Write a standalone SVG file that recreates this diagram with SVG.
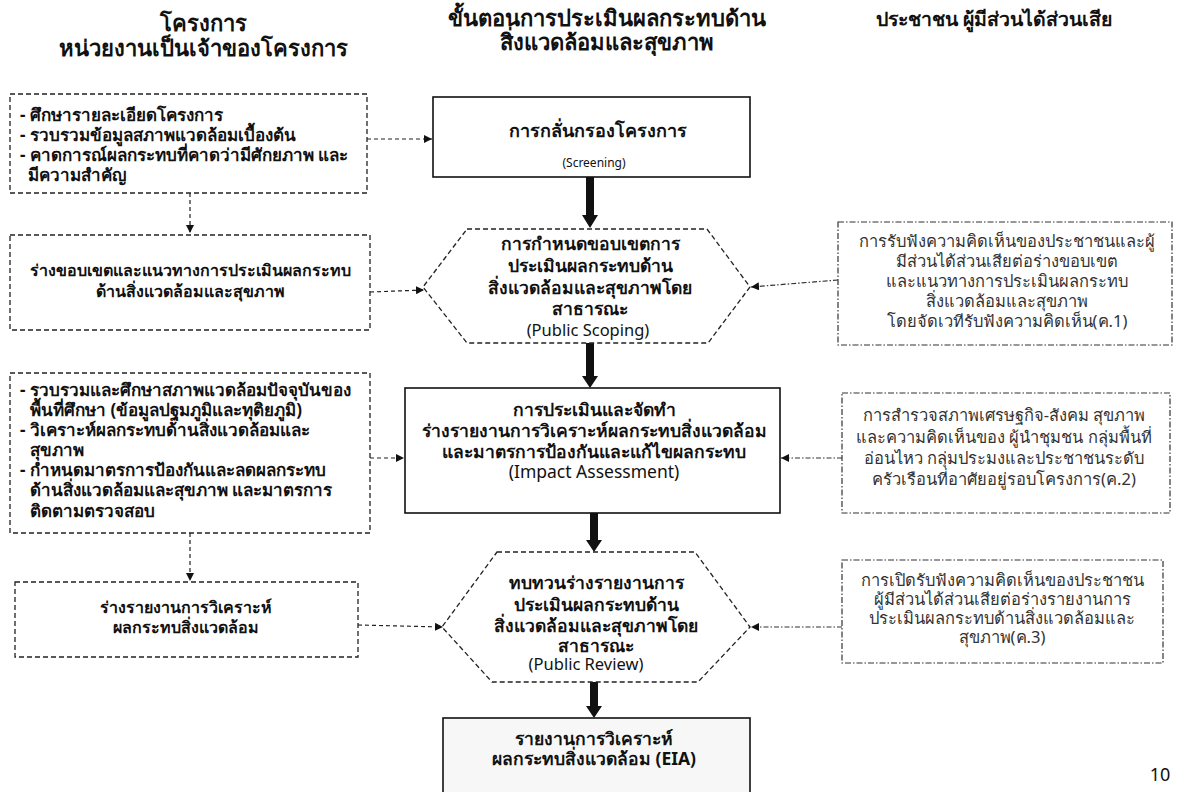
<svg xmlns="http://www.w3.org/2000/svg" width="1185" height="792" viewBox="0 0 1185 792">
<style>
text{font-family:"Noto Sans","DejaVu Sans","Liberation Sans",sans-serif;fill:#111}
.h{font-size:22px;font-weight:bold;text-anchor:middle}
.l{font-size:17px;font-weight:bold}
.lc{font-size:16px;font-weight:bold;text-anchor:middle}
.c{font-size:17.5px;font-weight:bold;text-anchor:middle}
.e{font-size:16.5px;text-anchor:middle}
.r{font-size:16.5px;text-anchor:middle;fill:#333}
.dash{fill:#fff;stroke:#222;stroke-width:1.3;stroke-dasharray:5 3}
.dd{fill:#fff;stroke:#333;stroke-width:1.2;stroke-dasharray:6 2 1.5 2}
.solid{fill:#fff;stroke:#111;stroke-width:1.6}
.conn{fill:none;stroke:#222;stroke-width:1.2;stroke-dasharray:4 3}
.conndd{fill:none;stroke:#333;stroke-width:1.2;stroke-dasharray:5 2 1.5 2}
.thick{fill:#111}
</style>
<defs>
<marker id="ah" viewBox="0 0 10 10" refX="10" refY="5" markerWidth="8" markerHeight="8" markerUnits="userSpaceOnUse" orient="auto">
<path d="M0,0 L10,5 L0,10 z" fill="#111"/>
</marker>
</defs>
<rect width="1185" height="792" fill="#fff"/>

<g id="headers">
<text class="h" x="203" y="31">โครงการ</text>
<text class="h" x="203" y="56">หน่วยงานเป็นเจ้าของโครงการ</text>
<text class="h" x="607" y="26">ขั้นตอนการประเมินผลกระทบด้าน</text>
<text class="h" x="607" y="50">สิ่งแวดล้อมและสุขภาพ</text>
<text class="h" x="994" y="26" style="font-size:19.5px">ประชาชน ผู้มีส่วนได้ส่วนเสีย</text>
</g>

<g id="connectors">
<line class="conn" x1="367" y1="139" x2="432" y2="139" marker-end="url(#ah)"/>
<line class="conn" x1="190" y1="193" x2="190" y2="233" marker-end="url(#ah)"/>
<line class="conn" x1="370" y1="292" x2="424" y2="290" marker-end="url(#ah)"/>
<line class="conndd" x1="838" y1="280" x2="751" y2="287" marker-end="url(#ah)"/>
<line class="conn" x1="370" y1="458" x2="404" y2="458" marker-end="url(#ah)"/>
<line class="conndd" x1="842" y1="458" x2="781" y2="458" marker-end="url(#ah)"/>
<line class="conn" x1="190" y1="533" x2="190" y2="581" marker-end="url(#ah)"/>
<line class="conn" x1="358" y1="625" x2="443" y2="627" marker-end="url(#ah)"/>
<line class="conndd" x1="842" y1="627" x2="751" y2="627" marker-end="url(#ah)"/>
<polygon class="thick" points="586,177 594,177 594,215 598,215 590,228 582,215 586,215"/>
<polygon class="thick" points="586,343 594,343 594,376 598,376 590,388 582,376 586,376"/>
<polygon class="thick" points="590,513 598,513 598,540 602,540 594,552 586,540 590,540"/>
<polygon class="thick" points="590,682 598,682 598,706 602,706 594,718 586,706 590,706"/>
</g>

<g id="left1">
<rect class="dash" x="10" y="94" width="357" height="99"/>
<text class="l" x="20" y="121">- ศึกษารายละเอียดโครงการ</text>
<text class="l" x="20" y="141">- รวบรวมข้อมูลสภาพแวดล้อมเบื้องต้น</text>
<text class="l" x="20" y="161">- คาดการณ์ผลกระทบที่คาดว่ามีศักยภาพ และ</text>
<text class="l" x="28" y="181">มีความสำคัญ</text>
</g>

<g id="left2">
<rect class="dash" x="10" y="235" width="360" height="95"/>
<text class="lc" x="190" y="276">ร่างขอบเขตและแนวทางการประเมินผลกระทบ</text>
<text class="lc" x="190" y="297">ด้านสิ่งแวดล้อมและสุขภาพ</text>
</g>

<g id="left3">
<rect class="dash" x="10" y="373" width="360" height="160"/>
<text class="l" x="20" y="396">- รวบรวมและศึกษาสภาพแวดล้อมปัจจุบันของ</text>
<text class="l" x="30" y="416">พื้นที่ศึกษา (ข้อมูลปฐมภูมิและทุติยภูมิ)</text>
<text class="l" x="20" y="436">- วิเคราะห์ผลกระทบด้านสิ่งแวดล้อมและ</text>
<text class="l" x="30" y="456">สุขภาพ</text>
<text class="l" x="20" y="476">- กำหนดมาตรการป้องกันและลดผลกระทบ</text>
<text class="l" x="30" y="496">ด้านสิ่งแวดล้อมและสุขภาพ และมาตรการ</text>
<text class="l" x="30" y="517">ติดตามตรวจสอบ</text>
</g>

<g id="left4">
<rect class="dash" x="15" y="582" width="343" height="75"/>
<text class="lc" x="186" y="613">ร่างรายงานการวิเคราะห์</text>
<text class="lc" x="186" y="633">ผลกระทบสิ่งแวดล้อม</text>
</g>

<g id="screening">
<rect class="solid" x="433" y="97" width="317" height="80"/>
<text class="c" x="598" y="137" style="font-size:18px">การกลั่นกรองโครงการ</text>
<text class="e" x="594" y="167" style="font-size:12px">(Screening)</text>
</g>

<g id="scoping">
<polygon class="dash" points="467,229 707,229 750,287 708,343 467,343 423,287"/>
<text class="c" x="590" y="250">การกำหนดขอบเขตการ</text>
<text class="c" x="590" y="272">ประเมินผลกระทบด้าน</text>
<text class="c" x="590" y="294">สิ่งแวดล้อมและสุขภาพโดย</text>
<text class="c" x="590" y="315">สาธารณะ</text>
<text class="e" x="588" y="336">(Public Scoping)</text>
</g>

<g id="assessment">
<rect class="solid" x="405" y="388" width="375" height="125"/>
<text class="c" x="594" y="416">การประเมินและจัดทำ</text>
<text class="c" x="594" y="437">ร่างรายงานการวิเคราะห์ผลกระทบสิ่งแวดล้อม</text>
<text class="c" x="594" y="458">และมาตรการป้องกันและแก้ไขผลกระทบ</text>
<text class="c" x="594" y="478" style="font-weight:normal">(Impact Assessment)</text>
</g>

<g id="review">
<polygon class="dash" points="497,552 695,552 750,627 698,682 492,682 442,627"/>
<text class="c" x="596" y="589">ทบทวนร่างรายงานการ</text>
<text class="c" x="596" y="611">ประเมินผลกระทบด้าน</text>
<text class="c" x="596" y="632">สิ่งแวดล้อมและสุขภาพโดย</text>
<text class="c" x="596" y="652">สาธารณะ</text>
<text class="e" x="586" y="670">(Public Review)</text>
</g>

<g id="eia">
<rect class="solid" x="443" y="718" width="307" height="90" style="fill:#f7f7f7"/>
<text class="c" x="594" y="745">รายงานการวิเคราะห์</text>
<text class="c" x="594" y="765">ผลกระทบสิ่งแวดล้อม (EIA)</text>
</g>

<g id="right1">
<rect class="dd" x="838" y="222" width="334" height="123"/>
<text class="r" x="1007" y="247">การรับฟังความคิดเห็นของประชาชนและผู้</text>
<text class="r" x="1007" y="267">มีส่วนได้ส่วนเสียต่อร่างขอบเขต</text>
<text class="r" x="1007" y="287">และแนวทางการประเมินผลกระทบ</text>
<text class="r" x="1007" y="307">สิ่งแวดล้อมและสุขภาพ</text>
<text class="r" x="1007" y="327">โดยจัดเวทีรับฟังความคิดเห็น(ค.1)</text>
</g>

<g id="right2">
<rect class="dd" x="842" y="393" width="328" height="120"/>
<text class="r" x="1004" y="421">การสำรวจสภาพเศรษฐกิจ-สังคม สุขภาพ</text>
<text class="r" x="1004" y="443">และความคิดเห็นของ ผู้นำชุมชน กลุ่มพื้นที่</text>
<text class="r" x="1004" y="464">อ่อนไหว กลุ่มประมงและประชาชนระดับ</text>
<text class="r" x="1004" y="485">ครัวเรือนที่อาศัยอยู่รอบโครงการ(ค.2)</text>
</g>

<g id="right3">
<rect class="dd" x="842" y="560" width="321" height="103"/>
<text class="r" x="1002" y="586">การเปิดรับฟังความคิดเห็นของประชาชน</text>
<text class="r" x="1002" y="605">ผู้มีส่วนได้ส่วนเสียต่อร่างรายงานการ</text>
<text class="r" x="1002" y="624">ประเมินผลกระทบด้านสิ่งแวดล้อมและ</text>
<text class="r" x="1002" y="643">สุขภาพ(ค.3)</text>
</g>

<text x="1160" y="781" style="font-size:18px;text-anchor:middle">10</text>
</svg>
